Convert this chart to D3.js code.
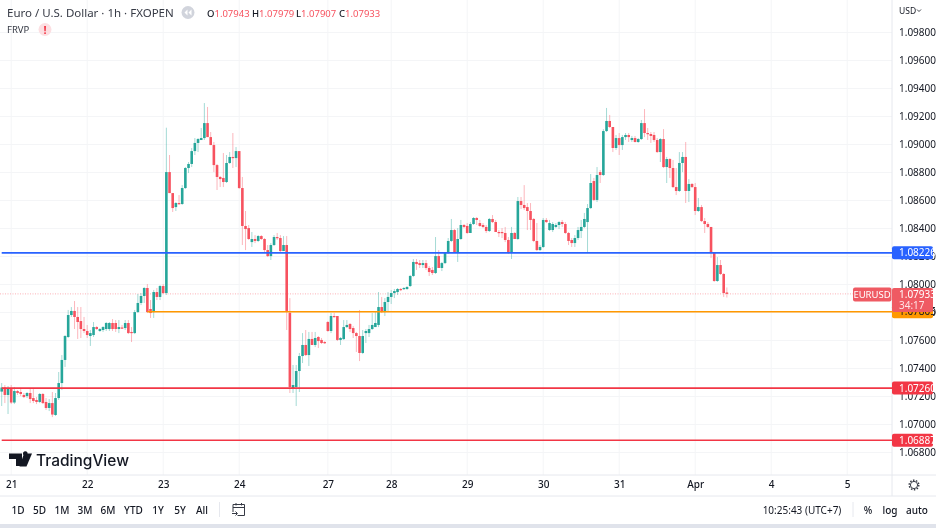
<!DOCTYPE html>
<html lang="en">
<head>
<meta charset="utf-8">
<title>EURUSD 1h</title>
<style>
html, body { margin: 0; padding: 0; background: #fff; overflow: hidden; }
svg { display: block; filter: blur(0.4px); font-family: "Noto Sans", sans-serif; }
.axis text { font-size: 10px; fill: #131722; font-family: "Noto Sans", sans-serif; }
.axis path, .axis line { display: none; }
.btn { font-size: 10px; fill: #131722; font-weight: 500; text-anchor: middle; }
</style>
</head>
<body>
<div id="chart"></div>
<script src="https://d3js.org/d3.v7.min.js"></script>
<script>
// candle values, in 0.00001 above 1.0 (7235 = 1.07235). first candle sits 3 bars before the 21st
var opens = [
	7235,7264,7211,7261,7157,7239,7232,7211,7203,7225,
	7189,7175,7161,7218,7161,7118,7153,7068,7189,7296,
	7461,7625,7782,7811,7768,7739,7682,7668,7632,7639,
	7696,7668,7675,7682,7682,7725,7725,7682,7693,7689,
	7725,7661,7653,7803,7868,7918,7975,7825,7803,7946,
	7911,7989,7939,8803,8653,8553,8582,8575,8689,8832,
	8861,8953,9011,9032,9046,9153,9053,8996,8853,8768,
	8761,8732,8868,8911,8903,8953,8689,8418,8403,8303,
	8325,8311,8346,8325,8246,8203,8282,8339,8332,8239,
	8282,7798,7261,7268,7382,7489,7568,7496,7611,7568,
	7625,7604,7589,7732,7668,7775,7775,7604,7610,7696,
	7718,7689,7653,7632,7511,7653,7653,7682,7696,7711,
	7839,7803,7875,7911,7939,7946,7968,7968,7968,7989,
	8061,8161,8153,8139,8153,8118,8104,8082,8203,8118,
	8153,8225,8311,8389,8232,8325,8425,8418,8368,8432,
	8475,8439,8425,8411,8382,8468,8446,8375,8375,8368,
	8318,8225,8368,8325,8596,8568,8553,8525,8468,8311,
	8246,8268,8461,8389,8389,8411,8425,8446,8432,8368,
	8318,8296,8332,8382,8411,8446,8546,8739,8604,8803,
	8782,9096,9168,9125,8975,9046,8996,9053,9068,9032,
	9046,9018,9039,9153,9082,9075,9068,9032,8946,9039,
	8839,8896,8832,8696,8668,8868,8911,8668,8718,8696,
	8525,8553,8453,8432,8411,8225,8025,8139,8075,7943
];
var highs = [
	7296,7282,7275,7282,7268,7246,7261,7225,7232,7261,
	7253,7196,7225,7225,7189,7182,7232,7225,7375,7496,
	7639,7818,7839,7882,7839,7839,7768,7711,7675,7732,
	7703,7689,7703,7732,7732,7753,7746,7746,7711,7746,
	7746,7696,7818,7932,7939,7982,8003,7889,7961,7975,
	7996,8003,9120,8925,8653,8589,8639,8710,8839,8875,
	8975,9046,9046,9118,9296,9268,9089,9018,8861,8775,
	8939,8925,8946,9082,8982,8953,8768,8525,8425,8375,
	8353,8353,8353,8332,8282,8296,8353,8368,8353,8346,
	8346,7903,7425,7425,7511,7653,7675,7661,7661,7661,
	7632,7618,7596,7739,7796,7796,7775,7625,7746,7746,
	7725,7703,7661,7818,7675,7682,7711,7796,7803,7946,
	7911,7903,7946,7961,7968,7975,7975,7982,7989,8068,
	8182,8182,8175,8175,8175,8132,8125,8339,8246,8161,
	8225,8332,8468,8396,8403,8461,8432,8439,8446,8482,
	8482,8461,8439,8425,8475,8496,8461,8389,8403,8411,
	8339,8411,8375,8625,8625,8710,8582,8582,8475,8439,
	8282,8475,8475,8461,8446,8439,8453,8461,8446,8375,
	8332,8353,8411,8461,8511,8575,8789,8761,8839,8818,
	9110,9261,9211,9125,9068,9082,9068,9082,9082,9061,
	9061,9046,9175,9253,9118,9089,9089,9046,9046,9110,
	8911,8903,8889,8832,8946,8946,9018,8753,8725,8725,
	8618,8568,8475,8446,8411,8232,8196,8175,8082,7979
];
var lows = [
	7132,7153,7075,7146,7146,7211,7203,7189,7189,7153,
	7153,7146,7153,7146,7104,7096,7053,7061,7175,7246,
	7411,7618,7768,7682,7611,7618,7653,7618,7561,7625,
	7675,7661,7661,7668,7668,7668,7661,7653,7682,7675,
	7646,7589,7646,7796,7853,7868,7796,7761,7761,7889,
	7889,7932,7925,8653,8518,8525,8568,8568,8682,8796,
	8839,8925,8946,9032,9032,9053,8996,8803,8675,8696,
	8696,8725,8861,8832,8839,8682,8282,8246,8318,8268,
	8296,8303,8318,8225,8196,8175,8275,8318,8232,8239,
	7675,7225,7225,7132,7232,7439,7489,7418,7568,7553,
	7546,7575,7575,7661,7653,7764,7596,7568,7604,7689,
	7661,7618,7518,7453,7503,7582,7625,7675,7696,7696,
	7796,7775,7803,7861,7903,7925,7953,7961,7961,7982,
	8053,8104,8118,8118,8104,8061,8068,8075,8118,8096,
	8146,8218,8303,8225,8161,8318,8403,8361,8368,8425,
	8425,8411,8403,8368,8375,8439,8375,8339,8332,8303,
	8218,8182,8325,8318,8539,8532,8389,8389,8303,8239,
	8239,8261,8439,8382,8375,8403,8396,8411,8361,8282,
	8268,8268,8318,8332,8403,8232,8539,8596,8589,8725,
	8775,9089,9118,8946,8961,8925,8961,9032,9018,9018,
	9014,9011,9032,9053,9032,9011,9018,8939,8875,8832,
	8725,8761,8689,8639,8661,8803,8582,8589,8689,8496,
	8518,8446,8368,8403,8189,8018,8018,8068,7911,7907
];
var closes = [
	7264,7211,7261,7157,7239,7225,7218,7196,7225,7182,
	7168,7161,7218,7153,7118,7153,7071,7189,7296,7461,
	7632,7782,7811,7768,7732,7682,7668,7639,7653,7696,
	7682,7682,7696,7725,7725,7682,7682,7696,7686,7725,
	7653,7653,7803,7868,7918,7975,7803,7796,7946,7911,
	7989,7939,8803,8653,8546,8582,8575,8689,8832,8861,
	8953,9011,9039,9046,9153,9053,8996,8853,8768,8753,
	8732,8868,8911,8903,8953,8689,8418,8396,8325,8325,
	8311,8346,8325,8246,8203,8282,8339,8332,8239,8282,
	7811,7268,7282,7382,7489,7568,7496,7611,7568,7618,
	7596,7582,7582,7668,7775,7768,7604,7618,7696,7711,
	7682,7653,7632,7511,7632,7668,7682,7711,7725,7839,
	7803,7875,7911,7939,7953,7968,7961,7975,7982,8061,
	8161,8146,8139,8153,8118,8089,8082,8203,8118,8153,
	8225,8311,8389,8232,8325,8425,8411,8368,8432,8475,
	8461,8418,8411,8382,8468,8446,8375,8368,8368,8318,
	8225,8368,8325,8596,8568,8546,8525,8461,8311,8246,
	8268,8461,8446,8439,8432,8425,8446,8432,8368,8311,
	8296,8332,8389,8411,8468,8546,8725,8604,8782,8782,
	9096,9168,9125,8975,9046,8996,9053,9068,9053,9046,
	9018,9039,9153,9082,9075,9061,9032,8946,9039,8839,
	8896,8832,8696,8668,8868,8911,8668,8718,8696,8525,
	8553,8453,8432,8411,8225,8025,8139,8075,7939,7933
];
var firstBar = -3;

var priceTicks = [1.098,1.096,1.094,1.092,1.09,1.088,1.086,1.084,1.082,1.08,1.078,1.076,1.074,1.072,1.07,1.068];
var dayLabels = ["21","22","23","24","27","28","29","30","31","Apr","4","5"];
var dayBars = [0,24,48,72,100,120,144,168,192,216,240,264];

// support/resistance lines drawn on the chart
var levelPrices = [1.08226, 1.07805, 1.0726, 1.06887];
var levelStartBars = [firstBar, 43, firstBar, firstBar];
var levelColors = ["#2962ff", "#ff9800", "#f23645", "#f23645"];

var ohlcNames = ["O","H","L","C"];
var ohlcValues = ["1.07943","1.07979","1.07907","1.07933"];
var rangeButtons = ["1D","5D","1M","3M","6M","YTD","1Y","5Y","All"];
var rangeCenters = [18,39.5,62,85,108,133.5,158,180,202];

var width = 936, height = 528,
	plotRight = 892, plotBottom = 475, timeBottom = 496, stripTop = 524;
var up = "#26a69a", down = "#f7525f", gridColor = "#f4f5f7", textColor = "#131722";

var toPrice = function(v) { return 1 + v / 100000; };

var x = d3.scaleLinear().domain([0, 264]).range([11.2, 847.2]);
var y = d3.scaleLinear().domain([1.068, 1.098]).range([452.5, 32.5]);

var svg = d3.select("#chart").append("svg")
	.attr("width", width).attr("height", height);

svg.append("rect").attrs
svg.append("rect").attr("x", 0).attr("y", stripTop).attr("width", width).attr("height", height - stripTop).attr("fill", "#e0e3eb");

// grid
svg.append("g").selectAll("line").data(priceTicks).join("line")
	.attr("x1", 0).attr("x2", plotRight)
	.attr("y1", function(d) { return y(d); }).attr("y2", function(d) { return y(d); })
	.attr("stroke", gridColor);
svg.append("g").selectAll("line").data(dayBars).join("line")
	.attr("x1", function(d) { return x(d); }).attr("x2", function(d) { return x(d); })
	.attr("y1", 0).attr("y2", plotBottom)
	.attr("stroke", gridColor);

// panel borders
[[plotRight, 0, plotRight, timeBottom], [0, plotBottom, width, plotBottom], [0, timeBottom, width, timeBottom], [219.5, 502, 219.5, 517], [853, 502, 853, 517]].forEach(function(b) {
	svg.append("line").attr("x1", b[0]).attr("y1", b[1]).attr("x2", b[2]).attr("y2", b[3]).attr("stroke", "#e6e8ee");
});

// current price dotted line
svg.append("line")
	.attr("x1", 0).attr("x2", plotRight)
	.attr("y1", y(toPrice(closes[closes.length - 1]))).attr("y2", y(toPrice(closes[closes.length - 1])))
	.attr("stroke", down).attr("stroke-opacity", 0.45).attr("stroke-dasharray", "1 1.5");

// candles
var bars = d3.range(opens.length);
var candles = svg.append("g").selectAll("g").data(bars).join("g")
	.attr("fill", function(i) { return closes[i] >= opens[i] ? up : down; })
	.attr("stroke", function(i) { return closes[i] >= opens[i] ? up : down; });
candles.append("line")
	.attr("x1", function(i) { return x(i + firstBar); }).attr("x2", function(i) { return x(i + firstBar); })
	.attr("y1", function(i) { return y(toPrice(highs[i])); })
	.attr("y2", function(i) { return y(toPrice(lows[i])); })
	.attr("stroke-opacity", 0.42);
candles.append("rect")
	.attr("stroke", "none")
	.attr("x", function(i) { return x(i + firstBar) - 1.3; })
	.attr("width", 2.6)
	.attr("y", function(i) { return y(toPrice(Math.max(opens[i], closes[i]))); })
	.attr("height", function(i) { return Math.max(1.2, Math.abs(y(toPrice(opens[i])) - y(toPrice(closes[i])))); });

// levels
svg.append("g").selectAll("line").data(levelPrices).join("line")
	.attr("x1", function(d, i) { return Math.max(0, x(levelStartBars[i])); }).attr("x2", plotRight)
	.attr("y1", function(d) { return y(d); }).attr("y2", function(d) { return y(d); })
	.attr("stroke", function(d, i) { return levelColors[i]; })
	.attr("stroke-width", 1.6);

// axes
svg.append("g").attr("class", "axis")
	.attr("transform", "translate(" + plotRight + ",0)")
	.call(d3.axisRight(y).tickValues(priceTicks).tickSize(0).tickPadding(7).tickFormat(d3.format(".5f")));
svg.append("g").attr("class", "axis")
	.attr("transform", "translate(0," + plotBottom + ")")
	.call(d3.axisBottom(x).tickValues(dayBars).tickSize(0).tickPadding(6).tickFormat(function(d, i) { return dayLabels[i]; }))
	.selectAll("text").attr("font-weight", 500);

// price tags on the axis
var tags = svg.append("g").selectAll("g").data(levelPrices).join("g")
	.attr("transform", function(d) { return "translate(" + plotRight + "," + y(d) + ")"; });
tags.append("rect")
	.attr("x", 0).attr("y", -6.5).attr("width", 41).attr("height", 13).attr("rx", 2)
	.attr("fill", function(d, i) { return levelColors[i]; });
tags.append("text")
	.attr("x", 7).attr("y", 3.6).attr("font-size", 10)
	.attr("fill", function(d, i) { return i === 1 ? "#131722" : "#fff"; })
	.text(function(d) { return d3.format(".5f")(d); });

// current price tag
var last = y(toPrice(closes[closes.length - 1]));
svg.append("rect").attr("x", plotRight).attr("y", last - 6).attr("width", 41).attr("height", 24).attr("rx", 2).attr("fill", "#ef5a63");
svg.append("text").attr("x", plotRight + 7).attr("y", last + 4.5).attr("font-size", 10).attr("fill", "#fff").text(ohlcValues[3]);
svg.append("text").attr("x", plotRight + 7).attr("y", last + 15).attr("font-size", 10).attr("fill", "#fde3e5").text("34:17");
svg.append("rect").attr("x", 853).attr("y", last - 6.5).attr("width", 38.5).attr("height", 14).attr("rx", 2).attr("fill", "#ef5a63");
svg.append("text").attr("x", 872).attr("y", last + 4).attr("font-size", 9.5).attr("fill", "#fff").attr("text-anchor", "middle").text("EURUSD");

svg.append("text").attr("x", 899).attr("y", 13.5).attr("font-size", 8.5).attr("fill", textColor).text("USD");
svg.append("path").attr("d", "M917 9.5l2 2 2-2").attr("fill", "none").attr("stroke", textColor).attr("stroke-width", 0.8);

// header
svg.append("text").attr("x", 7).attr("y", 16.5).attr("font-size", 11.5).attr("fill", "#363a45")
	.text("Euro / U.S. Dollar · 1h · FXOPEN");
svg.append("circle").attr("cx", 188).attr("cy", 12.5).attr("r", 6.5).attr("fill", "#d1d4dc");
svg.append("path").attr("d", "M187.5 9.5l-3 3 3 3zM191.5 9.5l-3 3 3 3z").attr("fill", "#fff");
var ohlcX = [207, 252, 296, 339];
ohlcNames.forEach(function(n, i) {
	var t = svg.append("text").attr("x", ohlcX[i]).attr("y", 16.5).attr("font-size", 9.5);
	t.append("tspan").attr("fill", textColor).attr("font-weight", 500).text(n);
	t.append("tspan").attr("fill", down).text(ohlcValues[i]);
});
svg.append("text").attr("x", 7).attr("y", 33).attr("font-size", 9.5).attr("fill", "#363a45").text("FRVP");
svg.append("circle").attr("cx", 45).attr("cy", 29.5).attr("r", 6.5).attr("fill", "#fcdfe2");
svg.append("text").attr("x", 45).attr("y", 33.5).attr("font-size", 11).attr("font-weight", 700).attr("text-anchor", "middle").attr("fill", "#f23645").text("!");

// logo
svg.append("path").attr("d", "M9 453.5h13v12.5h-6v-7h-7zM23 453.5a2.3 2.3 0 1 1 0 .01zM31 453.5l-5.5 12.5h-5z").attr("fill", "#131722");
svg.append("path").attr("d", "M24 453.5h8l-5.5 13h-7z").attr("fill", "#131722");
svg.append("text").attr("x", 36).attr("y", 465.5).attr("font-size", 15.5).attr("font-family", "Inter").attr("font-weight", 500).attr("fill", "#131722").text("TradingView");

// bottom bar
svg.append("g").selectAll("text").data(rangeButtons).join("text")
	.attr("class", "btn")
	.attr("x", function(d, i) { return rangeCenters[i]; }).attr("y", 513.5)
	.text(function(d) { return d; });
svg.append("path").attr("d", "M233 512v-7.5h11.5v11h-7M233 507.5h11.5M236 503v2.5M241.5 503v2.5M232 513.5h5M235.5 511.5l2 2-2 2")
	.attr("fill", "none").attr("stroke", "#363a45").attr("stroke-width", 1);
svg.append("text").attr("x", 802).attr("y", 513.5).attr("font-size", 10).attr("text-anchor", "middle").attr("fill", textColor).text("10:25:43 (UTC+7)");
svg.append("text").attr("class", "btn").attr("x", 868).attr("y", 514).attr("font-size", 11).text("%");
svg.append("text").attr("class", "btn").attr("x", 890).attr("y", 513.5).text("log");
svg.append("text").attr("class", "btn").attr("x", 917).attr("y", 513.5).text("auto");

// gear
svg.append("circle").attr("cx", 914).attr("cy", 485).attr("r", 3.6).attr("fill", "none").attr("stroke", "#363a45").attr("stroke-width", 1);
svg.append("circle").attr("cx", 914).attr("cy", 485).attr("r", 4.8).attr("fill", "none").attr("stroke", "#363a45").attr("stroke-width", 1.4).attr("stroke-dasharray", "1.5 1.5");
</script>
</body>
</html>
